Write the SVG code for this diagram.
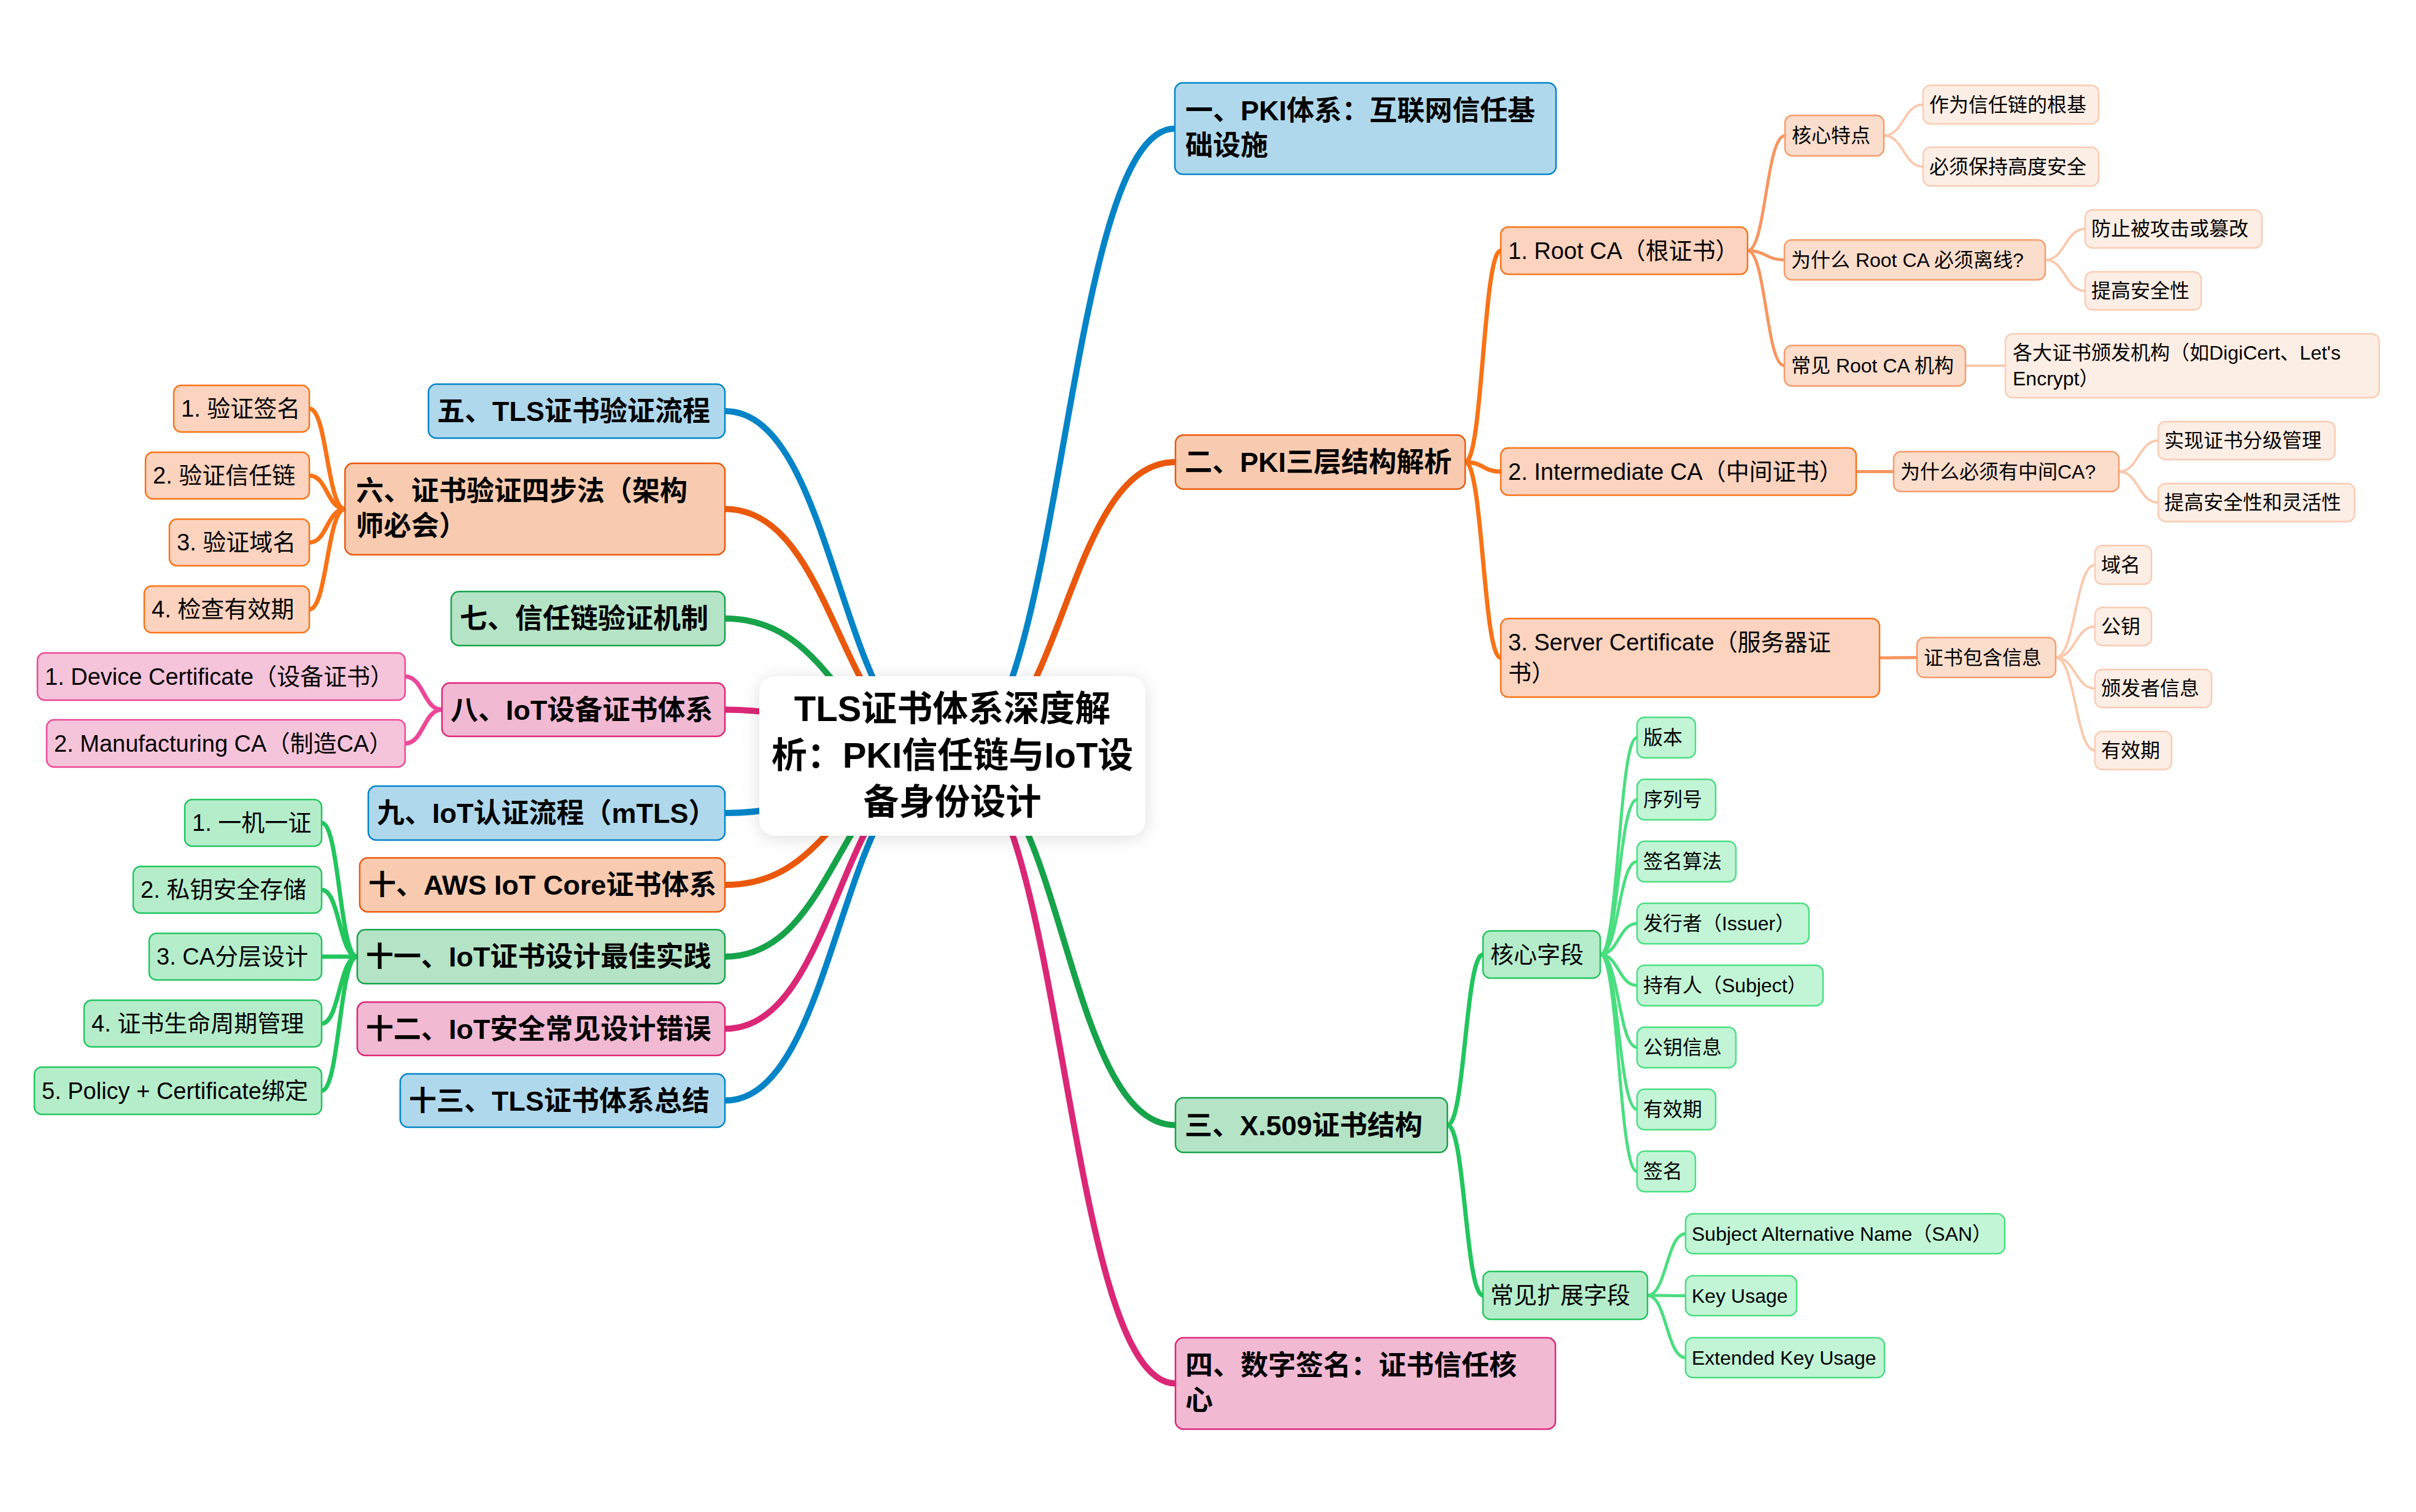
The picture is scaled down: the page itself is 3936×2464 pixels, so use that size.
<svg xmlns="http://www.w3.org/2000/svg" width="3936" height="2464" viewBox="0 0 3936 2464">
<defs>
<filter id="shadow" x="-20%" y="-30%" width="140%" height="160%">
<feDropShadow dx="0" dy="4" stdDeviation="14" flood-color="#000" flood-opacity="0.13"/>
</filter>
<style>
text{font-family:"Liberation Sans","Noto Sans CJK SC",sans-serif;fill:#000}
.tc{font-weight:700;font-size:58px;text-anchor:middle}
.t1{font-weight:700;font-size:45px}
.t2{font-size:38px}
.t3{font-size:32px}
.c{fill:none;stroke-linecap:round}
.m{stroke-width:10}
.l2{stroke-width:7}
.l3{stroke-width:5}
.l4{stroke-width:4}
.cb{stroke:#0284C7}.co{stroke:#EA580C}.cg{stroke:#16A34A}.cp{stroke:#DB2777}
.co2{stroke:#F97316}.cg2{stroke:#22C55E}.cp2{stroke:#EC4899}
.co3{stroke:#F8955E}.cg3{stroke:#4ADE80}
.co4{stroke:#FCC8AC}
rect{stroke-width:2.5}
.nb1{fill:#B0D8EC;stroke:#0284C7}
.no1{fill:#F8CBB0;stroke:#EA580C}
.ng1{fill:#B5E3C6;stroke:#16A34A}
.np1{fill:#F2B9D3;stroke:#DB2777}
.no2{fill:#FBD3BE;stroke:#F97316}
.ng2{fill:#B5EDCB;stroke:#22C55E}
.np2{fill:#F6C4DA;stroke:#EC4899}
.no3{fill:#FBDDCC;stroke:#F89B6A}
.ng3{fill:#C2F5D6;stroke:#4ADE80}
.no4{fill:#FDEEE5;stroke:#FCCBB2}
</style>
</defs>
<rect x="0" y="0" width="3936" height="2464" fill="#fff" stroke="none"/>
<g id="connectors">
<path class="c m cb" d="M1551.5,1232 C1732.75,1232 1732.75,209.5 1914,209.5"/>
<path class="c m co" d="M1551.5,1232 C1733.25,1232 1733.25,753 1915,753"/>
<path class="c m cg" d="M1551.5,1232 C1733.25,1232 1733.25,1833.5 1915,1833.5"/>
<path class="c m cp" d="M1551.5,1232 C1733.25,1232 1733.25,2254.5 1915,2254.5"/>
<path class="c m cb" d="M1551.5,1232 C1366.25,1232 1366.25,670 1181,670"/>
<path class="c m co" d="M1551.5,1232 C1366.25,1232 1366.25,829.5 1181,829.5"/>
<path class="c m cg" d="M1551.5,1232 C1366.25,1232 1366.25,1008 1181,1008"/>
<path class="c m cp" d="M1551.5,1232 C1366.25,1232 1366.25,1156.5 1181,1156.5"/>
<path class="c m cb" d="M1551.5,1232 C1366.25,1232 1366.25,1325 1181,1325"/>
<path class="c m co" d="M1551.5,1232 C1366.25,1232 1366.25,1442 1181,1442"/>
<path class="c m cg" d="M1551.5,1232 C1366.25,1232 1366.25,1559 1181,1559"/>
<path class="c m cp" d="M1551.5,1232 C1366.25,1232 1366.25,1676.5 1181,1676.5"/>
<path class="c m cb" d="M1551.5,1232 C1366.25,1232 1366.25,1793.5 1181,1793.5"/>
<path class="c l2 co2" d="M2387,753 C2416,753 2416,408.5 2445,408.5"/>
<path class="c l2 co2" d="M2387,753 C2416,753 2416,768.5 2445,768.5"/>
<path class="c l2 co2" d="M2387,753 C2416,753 2416,1072 2445,1072"/>
<path class="c l2 cg2" d="M2358,1833.5 C2387,1833.5 2387,1555.5 2416,1555.5"/>
<path class="c l2 cg2" d="M2358,1833.5 C2387,1833.5 2387,2111 2416,2111"/>
<path class="c l2 co2" d="M562,829.5 C533,829.5 533,666 504,666"/>
<path class="c l2 co2" d="M562,829.5 C533,829.5 533,775 504,775"/>
<path class="c l2 co2" d="M562,829.5 C533,829.5 533,884 504,884"/>
<path class="c l2 co2" d="M562,829.5 C533,829.5 533,993 504,993"/>
<path class="c l2 cp2" d="M720,1156.5 C690,1156.5 690,1102.5 660,1102.5"/>
<path class="c l2 cp2" d="M720,1156.5 C690,1156.5 690,1211.5 660,1211.5"/>
<path class="c l2 cg2" d="M582,1559 C553,1559 553,1341 524,1341"/>
<path class="c l2 cg2" d="M582,1559 C553,1559 553,1450 524,1450"/>
<path class="c l2 cg2" d="M582,1559 C553,1559 553,1559 524,1559"/>
<path class="c l2 cg2" d="M582,1559 C553,1559 553,1668 524,1668"/>
<path class="c l2 cg2" d="M582,1559 C553,1559 553,1777.5 524,1777.5"/>
<path class="c l3 co3" d="M2847,408.5 C2877,408.5 2877,221 2908,221"/>
<path class="c l3 co3" d="M2847,408.5 C2877,408.5 2877,423.5 2907,423.5"/>
<path class="c l3 co3" d="M2847,408.5 C2877,408.5 2877,596 2907,596"/>
<path class="c l3 co3" d="M3024,768.5 L3085,768.5"/>
<path class="c l3 co3" d="M3062,1072 C3092,1072 3092,1071.5 3123,1071.5"/>
<path class="c l3 cg3" d="M2607,1555.5 C2637,1555.5 2637,1202 2667,1202"/>
<path class="c l3 cg3" d="M2607,1555.5 C2637,1555.5 2637,1303 2667,1303"/>
<path class="c l3 cg3" d="M2607,1555.5 C2637,1555.5 2637,1404 2667,1404"/>
<path class="c l3 cg3" d="M2607,1555.5 C2637,1555.5 2637,1505 2667,1505"/>
<path class="c l3 cg3" d="M2607,1555.5 C2637,1555.5 2637,1606 2667,1606"/>
<path class="c l3 cg3" d="M2607,1555.5 C2637,1555.5 2637,1707 2667,1707"/>
<path class="c l3 cg3" d="M2607,1555.5 C2637,1555.5 2637,1808 2667,1808"/>
<path class="c l3 cg3" d="M2607,1555.5 C2637,1555.5 2637,1909 2667,1909"/>
<path class="c l3 cg3" d="M2684,2111 C2715,2111 2715,2010.5 2746,2010.5"/>
<path class="c l3 cg3" d="M2684,2111 C2715,2111 2715,2111.5 2746,2111.5"/>
<path class="c l3 cg3" d="M2684,2111 C2715,2111 2715,2212.5 2746,2212.5"/>
<path class="c l4 co4" d="M3069,221 C3101,221 3101,170.5 3133,170.5"/>
<path class="c l4 co4" d="M3069,221 C3101,221 3101,271.5 3133,271.5"/>
<path class="c l4 co4" d="M3332,423.5 C3364.5,423.5 3364.5,373 3397,373"/>
<path class="c l4 co4" d="M3332,423.5 C3364.5,423.5 3364.5,474 3397,474"/>
<path class="c l4 co4" d="M3202,596 L3267,596"/>
<path class="c l4 co4" d="M3452,768.5 C3484,768.5 3484,718 3516,718"/>
<path class="c l4 co4" d="M3452,768.5 C3484,768.5 3484,819 3516,819"/>
<path class="c l4 co4" d="M3349,1071.5 C3381,1071.5 3381,920.5 3413,920.5"/>
<path class="c l4 co4" d="M3349,1071.5 C3381,1071.5 3381,1021 3413,1021"/>
<path class="c l4 co4" d="M3349,1071.5 C3381,1071.5 3381,1122 3413,1122"/>
<path class="c l4 co4" d="M3349,1071.5 C3381,1071.5 3381,1223 3413,1223"/>
</g>

<g id="n-root"><rect x="1237" y="1102" width="629" height="260" rx="26" fill="#fff" stroke="none" filter="url(#shadow)"/>
<text class="tc" x="1551.5" y="1175">TLS证书体系深度解</text>
<text class="tc" x="1551.5" y="1251">析：PKI信任链与IoT设</text>
<text class="tc" x="1551.5" y="1327">备身份设计</text></g>

<g id="n1"><rect class="nb1" x="1914" y="135" width="621" height="149" rx="13"/>
<text class="t1" x="1931" y="196">一、PKI体系：互联网信任基</text><text class="t1" x="1931" y="253">础设施</text></g>
<g id="n2"><rect class="no1" x="1915" y="709" width="472" height="88" rx="13"/>
<text class="t1" x="1930" y="769">二、PKI三层结构解析</text></g>
<g id="n3"><rect class="ng1" x="1915" y="1789" width="443" height="89" rx="13"/>
<text class="t1" x="1930" y="1850">三、X.509证书结构</text></g>
<g id="n4"><rect class="np1" x="1915" y="2180" width="619" height="149" rx="13"/>
<text class="t1" x="1931" y="2241">四、数字签名：证书信任核</text><text class="t1" x="1931" y="2298">心</text></g>
<g id="n5"><rect class="nb1" x="698" y="626" width="483" height="88" rx="13"/>
<text class="t1" x="712" y="686">五、TLS证书验证流程</text></g>
<g id="n6"><rect class="no1" x="562" y="755" width="619" height="149" rx="13"/>
<text class="t1" x="580" y="816">六、证书验证四步法（架构</text><text class="t1" x="580" y="873">师必会）</text></g>
<g id="n7"><rect class="ng1" x="735" y="964" width="446" height="88" rx="13"/>
<text class="t1" x="749" y="1024">七、信任链验证机制</text></g>
<g id="n8"><rect class="np1" x="720" y="1113" width="461" height="87" rx="13"/>
<text class="t1" x="734" y="1173">八、IoT设备证书体系</text></g>
<g id="n9"><rect class="nb1" x="600" y="1281" width="581" height="88" rx="13"/>
<text class="t1" x="614" y="1341">九、IoT认证流程（mTLS）</text></g>
<g id="n10"><rect class="no1" x="586" y="1398" width="595" height="88" rx="13"/>
<text class="t1" x="600" y="1458">十、AWS IoT Core证书体系</text></g>
<g id="n11"><rect class="ng1" x="582" y="1515" width="599" height="88" rx="13"/>
<text class="t1" x="596" y="1575">十一、IoT证书设计最佳实践</text></g>
<g id="n12"><rect class="np1" x="582" y="1633" width="599" height="87" rx="13"/>
<text class="t1" x="596" y="1693">十二、IoT安全常见设计错误</text></g>
<g id="n13"><rect class="nb1" x="652" y="1750" width="529" height="87" rx="13"/>
<text class="t1" x="666" y="1810">十三、TLS证书体系总结</text></g>

<g id="n6-1"><rect class="no2" x="283" y="628" width="221" height="76" rx="12"/><text class="t2" x="295" y="679">1. 验证签名</text></g>
<g id="n6-2"><rect class="no2" x="237" y="737" width="267" height="76" rx="12"/><text class="t2" x="249" y="788">2. 验证信任链</text></g>
<g id="n6-3"><rect class="no2" x="276" y="846" width="228" height="76" rx="12"/><text class="t2" x="288" y="897">3. 验证域名</text></g>
<g id="n6-4"><rect class="no2" x="235" y="955" width="269" height="76" rx="12"/><text class="t2" x="247" y="1006">4. 检查有效期</text></g>
<g id="n8-1"><rect class="np2" x="61" y="1064" width="599" height="77" rx="12"/><text class="t2" x="73" y="1116">1. Device Certificate（设备证书）</text></g>
<g id="n8-2"><rect class="np2" x="76" y="1173" width="584" height="77" rx="12"/><text class="t2" x="88" y="1225">2. Manufacturing CA（制造CA）</text></g>
<g id="n11-1"><rect class="ng2" x="301" y="1303" width="223" height="76" rx="12"/><text class="t2" x="313" y="1354">1. 一机一证</text></g>
<g id="n11-2"><rect class="ng2" x="217" y="1412" width="307" height="76" rx="12"/><text class="t2" x="229" y="1463">2. 私钥安全存储</text></g>
<g id="n11-3"><rect class="ng2" x="243" y="1521" width="281" height="76" rx="12"/><text class="t2" x="255" y="1572">3. CA分层设计</text></g>
<g id="n11-4"><rect class="ng2" x="137" y="1630" width="387" height="76" rx="12"/><text class="t2" x="149" y="1681">4. 证书生命周期管理</text></g>
<g id="n11-5"><rect class="ng2" x="56" y="1739" width="468" height="77" rx="12"/><text class="t2" x="68" y="1791">5. Policy + Certificate绑定</text></g>

<g id="n2-1"><rect class="no2" x="2445" y="370" width="402" height="77" rx="12"/><text class="t2" x="2457" y="422">1. Root CA（根证书）</text></g>
<g id="n2-2"><rect class="no2" x="2445" y="730" width="579" height="77" rx="12"/><text class="t2" x="2457" y="782">2. Intermediate CA（中间证书）</text></g>
<g id="n2-3"><rect class="no2" x="2445" y="1008" width="617" height="128" rx="12"/><text class="t2" x="2457" y="1060">3. Server Certificate（服务器证</text><text class="t2" x="2457" y="1110">书）</text></g>

<g id="n2-1-1"><rect class="no3" x="2908" y="188" width="161" height="66" rx="12"/><text class="t3" x="2919" y="232">核心特点</text></g>
<g id="n2-1-2"><rect class="no3" x="2907" y="391" width="425" height="65" rx="12"/><text class="t3" x="2918" y="435">为什么 Root CA 必须离线?</text></g>
<g id="n2-1-3"><rect class="no3" x="2907" y="563" width="295" height="66" rx="12"/><text class="t3" x="2918" y="607">常见 Root CA 机构</text></g>
<g id="n2-2-1"><rect class="no3" x="3085" y="736" width="367" height="65" rx="12"/><text class="t3" x="3096" y="780">为什么必须有中间CA?</text></g>
<g id="n2-3-1"><rect class="no3" x="3123" y="1039" width="226" height="65" rx="12"/><text class="t3" x="3134" y="1083">证书包含信息</text></g>

<g id="n2-1-1-1"><rect class="no4" x="3133" y="139" width="286" height="63" rx="12"/><text class="t3" x="3143" y="182">作为信任链的根基</text></g>
<g id="n2-1-1-2"><rect class="no4" x="3133" y="240" width="286" height="63" rx="12"/><text class="t3" x="3143" y="283">必须保持高度安全</text></g>
<g id="n2-1-2-1"><rect class="no4" x="3397" y="342" width="288" height="62" rx="12"/><text class="t3" x="3407" y="384">防止被攻击或篡改</text></g>
<g id="n2-1-2-2"><rect class="no4" x="3397" y="443" width="189" height="62" rx="12"/><text class="t3" x="3407" y="485">提高安全性</text></g>
<g id="n2-1-3-1"><rect class="no4" x="3267" y="544" width="609" height="104" rx="12"/><text class="t3" x="3279" y="586">各大证书颁发机构（如DigiCert、Let's</text><text class="t3" x="3279" y="628">Encrypt）</text></g>
<g id="n2-2-1-1"><rect class="no4" x="3516" y="687" width="288" height="62" rx="12"/><text class="t3" x="3526" y="729">实现证书分级管理</text></g>
<g id="n2-2-1-2"><rect class="no4" x="3516" y="788" width="320" height="62" rx="12"/><text class="t3" x="3526" y="830">提高安全性和灵活性</text></g>
<g id="n2-3-1-1"><rect class="no4" x="3413" y="889" width="92" height="63" rx="12"/><text class="t3" x="3423" y="932">域名</text></g>
<g id="n2-3-1-2"><rect class="no4" x="3413" y="990" width="92" height="62" rx="12"/><text class="t3" x="3423" y="1032">公钥</text></g>
<g id="n2-3-1-3"><rect class="no4" x="3413" y="1091" width="190" height="62" rx="12"/><text class="t3" x="3423" y="1133">颁发者信息</text></g>
<g id="n2-3-1-4"><rect class="no4" x="3413" y="1192" width="125" height="62" rx="12"/><text class="t3" x="3423" y="1234">有效期</text></g>

<g id="n3-1"><rect class="ng2" x="2416" y="1517" width="191" height="77" rx="12"/><text class="t2" x="2428" y="1569">核心字段</text></g>
<g id="n3-2"><rect class="ng2" x="2416" y="2072" width="268" height="78" rx="12"/><text class="t2" x="2428" y="2124">常见扩展字段</text></g>
<g id="n3-1-1"><rect class="ng3" x="2667" y="1169" width="95" height="66" rx="12"/><text class="t3" x="2677" y="1213">版本</text></g>
<g id="n3-1-2"><rect class="ng3" x="2667" y="1270" width="128" height="66" rx="12"/><text class="t3" x="2677" y="1314">序列号</text></g>
<g id="n3-1-3"><rect class="ng3" x="2667" y="1371" width="161" height="66" rx="12"/><text class="t3" x="2677" y="1415">签名算法</text></g>
<g id="n3-1-4"><rect class="ng3" x="2667" y="1472" width="280" height="66" rx="12"/><text class="t3" x="2677" y="1516">发行者（Issuer）</text></g>
<g id="n3-1-5"><rect class="ng3" x="2667" y="1573" width="303" height="66" rx="12"/><text class="t3" x="2677" y="1617">持有人（Subject）</text></g>
<g id="n3-1-6"><rect class="ng3" x="2667" y="1674" width="161" height="66" rx="12"/><text class="t3" x="2677" y="1718">公钥信息</text></g>
<g id="n3-1-7"><rect class="ng3" x="2667" y="1775" width="128" height="66" rx="12"/><text class="t3" x="2677" y="1819">有效期</text></g>
<g id="n3-1-8"><rect class="ng3" x="2667" y="1876" width="95" height="66" rx="12"/><text class="t3" x="2677" y="1920">签名</text></g>
<g id="n3-2-1"><rect class="ng3" x="2746" y="1978" width="520" height="65" rx="12"/><text class="t3" x="2756" y="2022">Subject Alternative Name（SAN）</text></g>
<g id="n3-2-2"><rect class="ng3" x="2746" y="2079" width="181" height="65" rx="12"/><text class="t3" x="2756" y="2123">Key Usage</text></g>
<g id="n3-2-3"><rect class="ng3" x="2746" y="2180" width="324" height="65" rx="12"/><text class="t3" x="2756" y="2224">Extended Key Usage</text></g>
</svg>
